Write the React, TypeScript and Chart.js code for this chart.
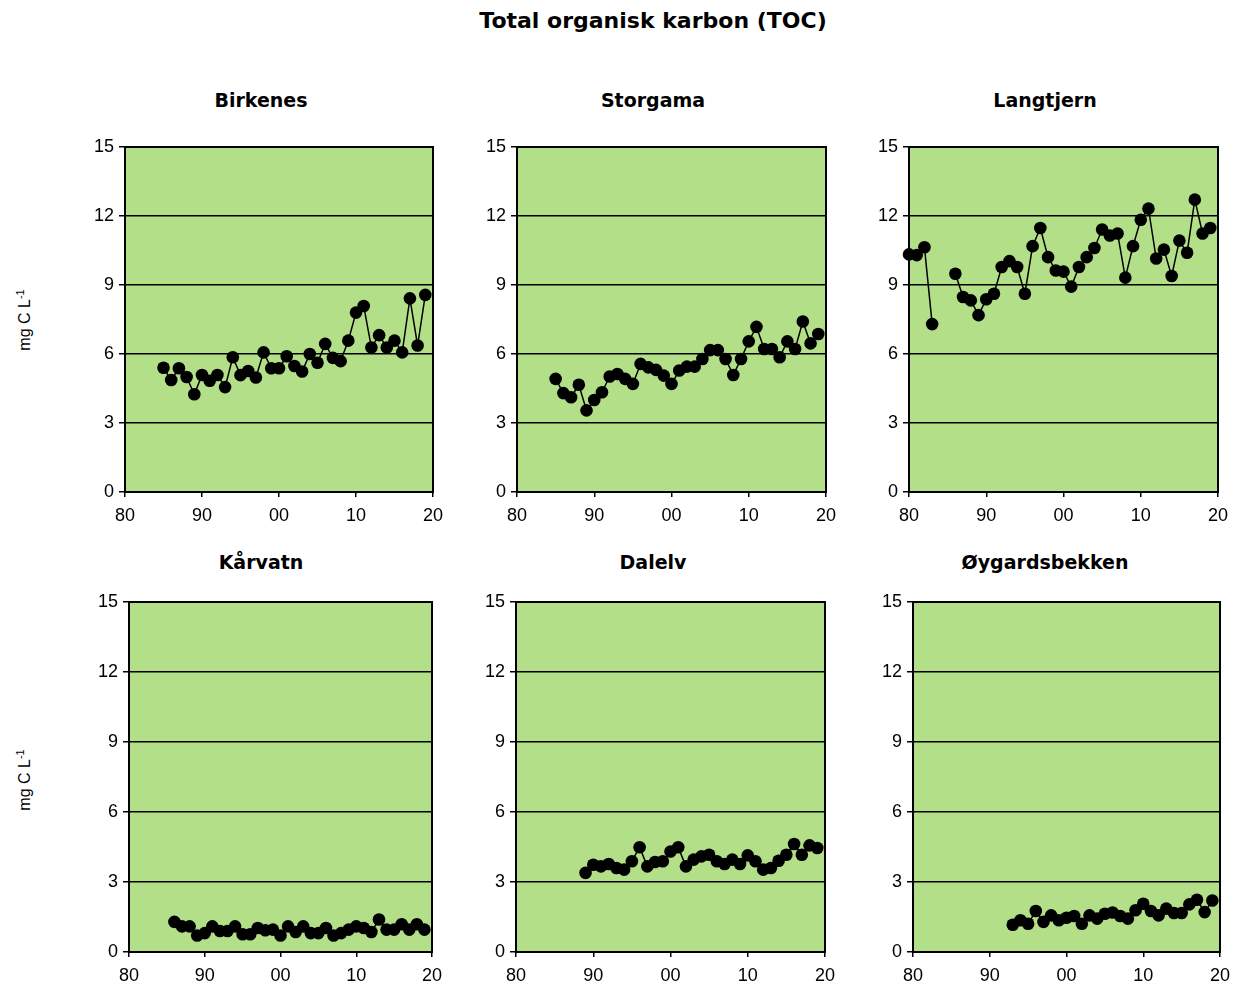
import React, { useEffect, useRef } from "react";
import { Chart, registerables } from "chart.js";

Chart.register(...registerables);

// ---- Data ----
const xTickLabels = ["80", "90", "00", "10", "20"];
const yTicks = [0, 3, 6, 9, 12, 15];

const birkenesStart = 1985;
const birkenes = [5.4, 4.87, 5.38, 5.0, 4.25, 5.09, 4.84, 5.09, 4.56, 5.86, 5.08, 5.26, 4.98, 6.07, 5.38, 5.38, 5.9, 5.48, 5.24, 6.0, 5.62, 6.44, 5.83, 5.69, 6.58, 7.8, 8.09, 6.28, 6.82, 6.28, 6.58, 6.07, 8.42, 6.37, 8.57];

const storgamaStart = 1985;
const storgama = [4.92, 4.3, 4.12, 4.66, 3.55, 4.0, 4.34, 5.02, 5.13, 4.92, 4.7, 5.57, 5.42, 5.31, 5.06, 4.7, 5.28, 5.45, 5.45, 5.78, 6.17, 6.17, 5.78, 5.09, 5.78, 6.55, 7.18, 6.22, 6.22, 5.86, 6.55, 6.22, 7.41, 6.46, 6.87];

const langtjernStart = 1980;
const langtjern = [10.33, 10.3, 10.64, 7.3, null, null, 9.49, 8.48, 8.33, 7.69, 8.38, 8.62, 9.78, 10.04, 9.78, 8.62, 10.69, 11.48, 10.21, 9.63, 9.58, 8.93, 9.78, 10.21, 10.61, 11.41, 11.15, 11.24, 9.32, 10.69, 11.84, 12.32, 10.15, 10.54, 9.39, 10.93, 10.4, 12.71, 11.24, 11.48];

const karvatnStart = 1986;
const karvatn = [1.29, 1.1, 1.1, 0.71, 0.81, 1.1, 0.9, 0.9, 1.1, 0.76, 0.76, 1.03, 0.93, 0.96, 0.71, 1.1, 0.86, 1.1, 0.81, 0.81, 1.03, 0.71, 0.81, 0.96, 1.1, 1.03, 0.86, 1.39, 0.96, 0.96, 1.19, 0.96, 1.19, 0.96];

const dalelvStart = 1989;
const dalelv = [3.39, 3.74, 3.67, 3.77, 3.6, 3.53, 3.89, 4.49, 3.67, 3.86, 3.89, 4.31, 4.49, 3.67, 3.96, 4.1, 4.17, 3.89, 3.77, 3.96, 3.77, 4.14, 3.89, 3.53, 3.6, 3.91, 4.17, 4.63, 4.17, 4.57, 4.46];

const oygardStart = 1993;
const oygard = [1.17, 1.36, 1.21, 1.76, 1.29, 1.57, 1.36, 1.47, 1.54, 1.21, 1.57, 1.43, 1.64, 1.69, 1.54, 1.43, 1.79, 2.07, 1.76, 1.57, 1.86, 1.67, 1.67, 2.04, 2.24, 1.71, 2.21];

const stationNames = ["Birkenes", "Storgama", "Langtjern", "Kårvatn", "Dalelv", "Øygardsbekken"];
const mainTitle = "Total organisk karbon (TOC)";

// ---- Layout (plot-area pixel boxes) ----
const panels = [
  { name: stationNames[0], start: birkenesStart, values: birkenes, L: 125, R: 433, T: 147, B: 492, tx: 261, ty: 100 },
  { name: stationNames[1], start: storgamaStart, values: storgama, L: 517, R: 826, T: 147, B: 492, tx: 653, ty: 100 },
  { name: stationNames[2], start: langtjernStart, values: langtjern, L: 909, R: 1218, T: 147, B: 492, tx: 1045, ty: 100 },
  { name: stationNames[3], start: karvatnStart, values: karvatn, L: 129, R: 432, T: 602, B: 952, tx: 261, ty: 562 },
  { name: stationNames[4], start: dalelvStart, values: dalelv, L: 516, R: 825, T: 602, B: 952, tx: 653, ty: 562 },
  { name: stationNames[5], start: oygardStart, values: oygard, L: 913, R: 1220, T: 602, B: 952, tx: 1045, ty: 562 },
];

const Y_AXIS_W = 50;
const X_AXIS_H = 35;
const PAD_T = 22;
const PAD_R = 22;
const PAD_B = 2;
const GREEN = "rgb(179,223,136)";
const tickFont = { family: "'Liberation Sans', Arial, sans-serif", size: 18 };

const bgPlugin = {
  id: "bgBox",
  beforeDraw(chart: any) {
    const { ctx, chartArea: a } = chart;
    ctx.save();
    ctx.fillStyle = GREEN;
    ctx.fillRect(a.left, a.top, a.right - a.left, a.bottom - a.top);
    ctx.restore();
  },
  beforeDatasetsDraw(chart: any) {
    const { ctx, chartArea: a } = chart;
    ctx.save();
    ctx.strokeStyle = "#000";
    ctx.lineWidth = 2;
    ctx.strokeRect(a.left, a.top, a.right - a.left, a.bottom - a.top);
    ctx.restore();
  },
};

function Panel({ p }: { p: any }) {
  const ref = useRef<HTMLCanvasElement>(null);
  const width = p.R - p.L + Y_AXIS_W + PAD_R;
  const height = p.B - p.T + PAD_T + X_AXIS_H + PAD_B;
  useEffect(() => {
    if (!ref.current) return;
    const data = p.values.map((v: number | null, i: number) => ({ x: p.start + i, y: v }));
    const chart = new Chart(ref.current, {
      type: "line",
      data: {
        datasets: [
          {
            data,
            borderColor: "#000",
            borderWidth: 1.5,
            pointRadius: 6.3,
            pointBackgroundColor: "#000",
            pointBorderColor: "#000",
            pointBorderWidth: 0,
            tension: 0,
            spanGaps: false,
            clip: false,
          } as any,
        ],
      },
      options: {
        animation: false,
        responsive: false,
        maintainAspectRatio: false,
        devicePixelRatio: 1,
        layout: { padding: { left: 0, right: PAD_R, top: PAD_T, bottom: PAD_B } },
        plugins: { legend: { display: false }, tooltip: { enabled: false }, title: { display: false } },
        scales: {
          x: {
            type: "linear",
            min: 1980,
            max: 2020,
            afterBuildTicks: (s: any) => {
              s.ticks = xTickLabels.map((_, i) => ({ value: 1980 + i * 10 }));
            },
            afterFit: (s: any) => {
              s.height = X_AXIS_H;
            },
            ticks: {
              autoSkip: false,
              maxRotation: 0,
              color: "#000",
              font: tickFont,
              padding: 8,
              callback: (_v: any, i: number) => xTickLabels[i],
            },
            grid: { drawOnChartArea: false, drawTicks: true, tickLength: 5, color: "#000", lineWidth: 1.5 },
            border: { display: true, color: "#000", width: 2 },
          },
          y: {
            min: 0,
            max: 15,
            afterBuildTicks: (s: any) => {
              s.ticks = yTicks.map((v) => ({ value: v }));
            },
            afterFit: (s: any) => {
              s.width = Y_AXIS_W;
            },
            ticks: { color: "#000", font: tickFont, padding: 5 },
            grid: { color: "#000", lineWidth: 1.5, tickLength: 6 },
            border: { display: true, color: "#000", width: 2 },
          },
        },
      } as any,
      plugins: [bgPlugin],
    });
    return () => chart.destroy();
  }, []);
  return (
    <>
      <canvas
        ref={ref}
        width={width}
        height={height}
        style={{ position: "absolute", left: p.L - Y_AXIS_W, top: p.T - PAD_T, width, height }}
      />
      <div
        style={{
          position: "absolute",
          left: p.tx,
          top: p.ty,
          transform: "translate(-50%, -50%)",
          font: "bold 19px 'DejaVu Sans', Verdana, sans-serif",
          whiteSpace: "nowrap",
          color: "#000",
        }}
      >
        {p.name}
      </div>
    </>
  );
}

function YLabel({ x, y }: { x: number; y: number }) {
  return (
    <div
      style={{
        position: "absolute",
        left: x,
        top: y,
        transform: "translate(-50%, -50%) rotate(-90deg)",
        font: "16px 'Liberation Sans', Arial, sans-serif",
        whiteSpace: "nowrap",
        color: "#000",
      }}
    >
      mg C L<sup style={{ fontSize: 11 }}>-1</sup>
    </div>
  );
}

export default function App() {
  return (
    <div style={{ position: "absolute", left: 0, top: 0, width: 1234, height: 989, background: "#fff", overflow: "hidden" }}>
      <div
        style={{
          position: "absolute",
          left: 653,
          top: 20,
          transform: "translate(-50%, -50%)",
          font: "bold 22px 'DejaVu Sans', Verdana, sans-serif",
          whiteSpace: "nowrap",
          color: "#000",
        }}
      >
        {mainTitle}
      </div>
      <YLabel x={24} y={320} />
      <YLabel x={24} y={780} />
      {panels.map((p) => (
        <Panel key={p.name} p={p} />
      ))}
    </div>
  );
}
